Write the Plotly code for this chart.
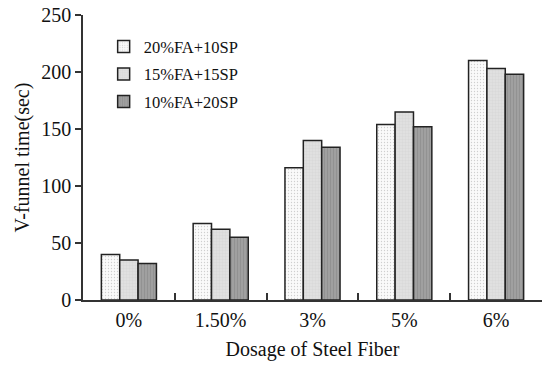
import plotly.graph_objects as go

categories = ["0%", "1.50%", "3%", "5%", "6%"]
series_names = ["20%FA+10SP", "15%FA+15SP", "10%FA+20SP"]
s1 = [40, 67, 116, 154, 210]
s2 = [35, 62, 140, 165, 203]
s3 = [32, 55, 134, 152, 198]
values = [s1, s2, s3]

styles = [
    dict(bg="#fafafa", fg="#cfcfcf", shape=".", size=3, sol=0.15),
    dict(bg="#e0e0e0", fg="#cdcdcd", shape="+", size=3, sol=0.15),
    dict(bg="#a0a0a0", fg="#8e8e8e", shape="|", size=3, sol=0.25),
]

fig = go.Figure()
for i, (name, vals, st) in enumerate(zip(series_names, values, styles)):
    fig.add_trace(go.Bar(
        x=categories, y=vals, name=name, legendgroup=f"g{i}",
        marker=dict(
            color=st["bg"],
            line=dict(color="#222222", width=1.5),
            pattern=dict(shape=st["shape"], fgcolor=st["fg"], bgcolor=st["bg"],
                         size=st["size"], solidity=st["sol"], fillmode="replace"),
        ),
    ))

font_family = "Liberation Serif"
fig.update_layout(
    width=550, height=370,
    margin=dict(l=83, r=8, t=15, b=70),
    paper_bgcolor="white", plot_bgcolor="white",
    barmode="group", bargap=0.4, bargroupgap=0,
    font=dict(family=font_family, size=20, color="#111111"),
    showlegend=True,
    legend=dict(x=0.045, y=0.95, xanchor="left", yanchor="top",
                font=dict(size=16.5, family=font_family), bgcolor="rgba(0,0,0,0)",
                tracegroupgap=3),
    xaxis=dict(
        title=dict(text="Dosage of Steel Fiber", font=dict(size=20), standoff=12),
        showline=True, linecolor="#333333", linewidth=1.5,
        ticks="inside", tickson="boundaries", ticklen=7, tickcolor="#333333", tickwidth=1.5,
        showgrid=False, zeroline=False, automargin=False,
        tickfont=dict(size=20), ticklabelstandoff=1,
    ),
    yaxis=dict(
        title=dict(text="V-funnel time(sec)", font=dict(size=20), standoff=6),
        range=[0, 250], dtick=50,
        showline=True, linecolor="#333333", linewidth=1.5,
        ticks="outside", ticklen=6, tickcolor="#333333", tickwidth=1.5,
        showgrid=False, zeroline=False, automargin=False,
        tickfont=dict(size=20),
    ),
)

fig.write_html("out.html", config={"displayModeBar": False},
               post_script="document.body.style.margin='0';")
